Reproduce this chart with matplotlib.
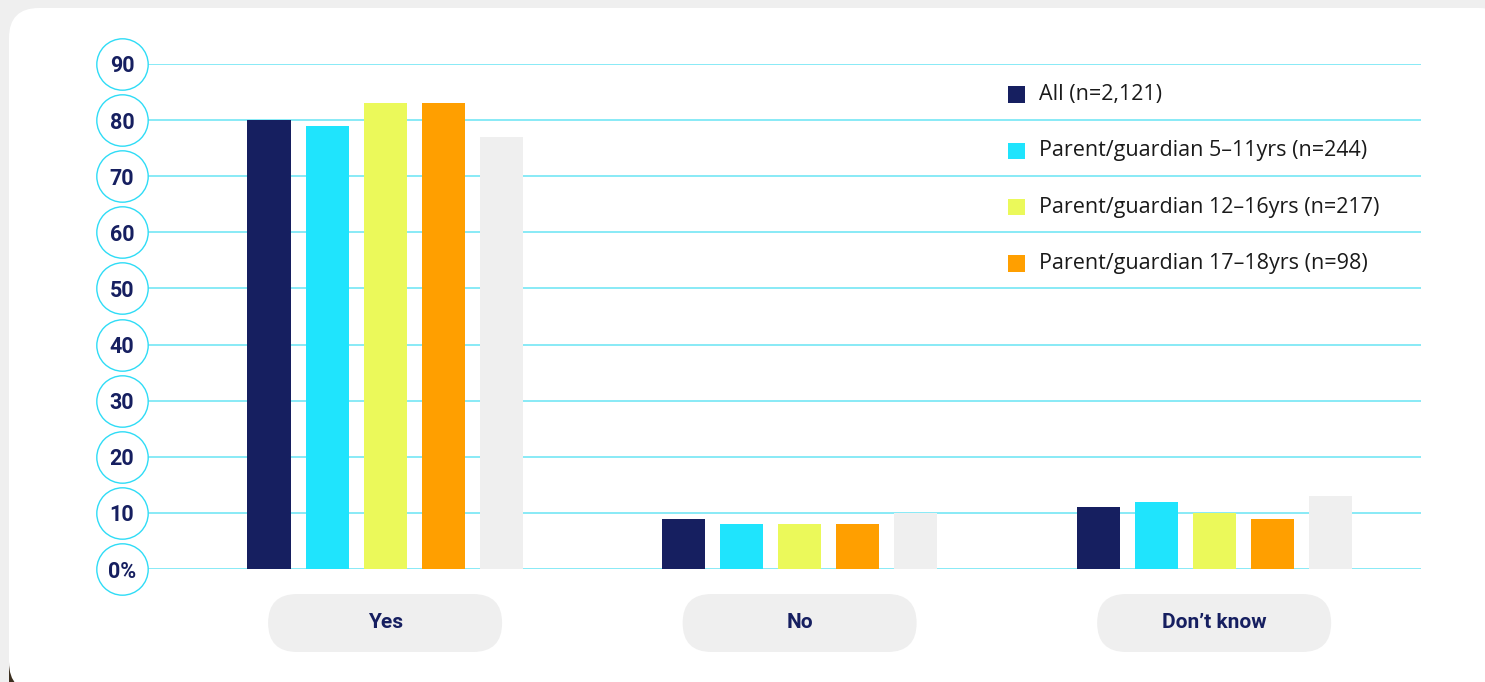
import matplotlib.pyplot as plt
import numpy as np
from matplotlib.patches import FancyBboxPatch, Rectangle
from matplotlib.transforms import IdentityTransform, blended_transform_factory

categories = ['Yes', 'No', 'Don\u2019t know']
series_names = ['All (n=2,121)',
                'Parent/guardian 5\u201311yrs (n=244)',
                'Parent/guardian 12\u201316yrs (n=217)',
                'Parent/guardian 17\u201318yrs (n=98)',
                None]
all_resp = [80, 9, 11]
pg_5_11 = [79, 8, 12]
pg_12_16 = [83, 8, 10]
pg_17_18 = [83, 8, 9]
other = [77, 10, 13]
yticks = [0, 10, 20, 30, 40, 50, 60, 70, 80, 90]
ytick_labels = ['0%', '10', '20', '30', '40', '50', '60', '70', '80', '90']

colors = ['#161f60', '#1fe4fd', '#ebf95a', '#ff9f00', '#efefef']
navy = '#161f60'
grid_col = '#7fe8f6'

W, H = 1485, 682
fig = plt.figure(figsize=(W / 100, H / 100), dpi=100)
fig.patch.set_facecolor('#efefef')

# dark thing peeking out behind the card, then the white card itself
fig.add_artist(Rectangle((9, 0), 60, 20, transform=IdentityTransform(),
                         facecolor='#3b2f1f', edgecolor='none', zorder=-2))
fig.add_artist(FancyBboxPatch((9, -10), 1500, H - 8 + 10,
                              boxstyle='round,pad=0,rounding_size=30',
                              transform=IdentityTransform(),
                              facecolor='white', edgecolor='none', zorder=-1))

ax = fig.add_axes([148 / W, 113 / H, 1273 / W, 505 / H])
ax.set_facecolor('none')
ax.set_xlim(-0.572, 2.499)
ax.set_ylim(0, 90)
for s in ax.spines.values():
    s.set_visible(False)
ax.set_xticks([])
ax.set_yticks([])

for y in yticks:
    ax.axhline(y, color=grid_col, lw=1.3, zorder=1)

x = np.arange(len(categories))
width = 0.104
step = 0.14
data = [all_resp, pg_5_11, pg_12_16, pg_17_18, other]
for k, vals in enumerate(data):
    ax.bar(x + (k - 2) * step, vals, width, color=colors[k], zorder=2)

# circled y tick labels
tr = blended_transform_factory(ax.transAxes, ax.transData)
cx = (122 - 148) / 1273
ax.scatter([cx] * len(yticks), yticks, s=37 ** 2, transform=tr, clip_on=False,
           facecolor='white', edgecolor='#2fdcf6', linewidth=1.0, zorder=3)
for y, lab in zip(yticks, ytick_labels):
    ax.text(cx, y, lab, transform=tr, ha='center', va='center_baseline',
            fontsize=15.5, fontweight='bold', color=navy, family='Roboto',
            zorder=4, clip_on=False)

# category labels in grey pills
fig.canvas.draw()
for i, cat in enumerate(categories):
    px = ax.transData.transform((i, 0))[0]
    fig.add_artist(FancyBboxPatch((px - 117, H - 652), 234, 58,
                                  boxstyle='round,pad=0,rounding_size=29',
                                  transform=IdentityTransform(),
                                  facecolor='#efefef', edgecolor='none', zorder=1))
    fig.text(px / W, (H - 622) / H, cat, ha='center', va='center',
             fontsize=15, fontweight='bold', color=navy, family='Roboto')

# legend rows sit between the gridlines
lx = (1008 - 148) / 1273
for k, name in enumerate(series_names):
    if name is None:
        continue
    yc = 84.5 - 10 * k
    ax.add_patch(Rectangle((lx, yc - 1.5), 17 / 1273, 3.0, transform=tr,
                           facecolor=colors[k], edgecolor='none', zorder=3))
    ax.text(lx + 31 / 1273, yc, name, transform=tr, ha='left', va='center',
            fontsize=15.5, fontweight=500, color='#1a1a1a', family='Open Sans',
            zorder=3)

fig.savefig('out.png', dpi=100, facecolor=fig.get_facecolor())
